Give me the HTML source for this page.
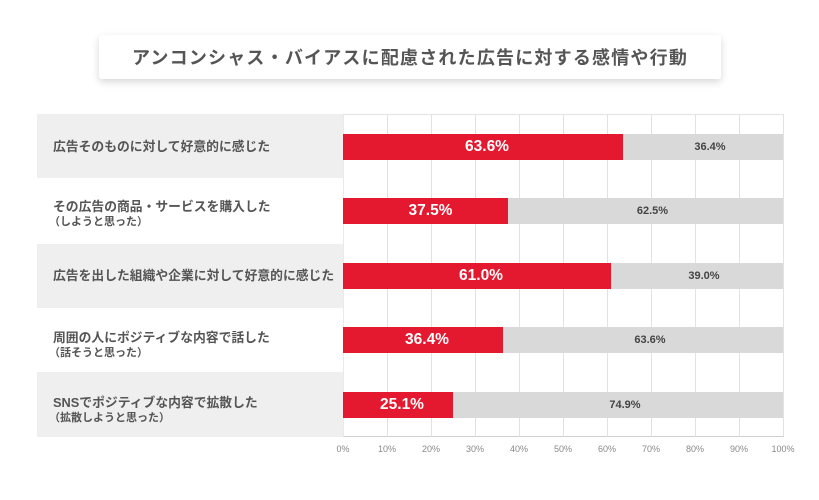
<!DOCTYPE html>
<html><head><meta charset="utf-8">
<style>
html,body{margin:0;padding:0;}
body{width:819px;height:500px;background:#fff;position:relative;overflow:hidden;font-family:"Liberation Sans","Noto Sans CJK JP",sans-serif;}
.abs{position:absolute;}
.title{left:99px;top:35px;width:622px;height:44px;background:#fff;border-radius:3px;box-shadow:0 3px 8px rgba(0,0,0,0.16);text-align:center;line-height:44px;font-family:"Noto Sans CJK JP",sans-serif;font-weight:bold;font-size:18px;color:#555;letter-spacing:1.2px;}
.band{left:37px;width:306px;background:#efefef;}
.lab{left:53px;font-family:"Liberation Sans","Noto Sans CJK JP",sans-serif;font-weight:bold;font-size:12.8px;color:#555;white-space:nowrap;line-height:14px;}
.sub{font-size:11px;line-height:12px;margin-left:-4px;}
.grid{top:114px;height:323px;width:1px;background:#e2e2e2;}
.red{background:#e4192f;height:26px;left:343px;}
.gry{background:#d9d9d9;height:26px;}
.rv{color:#fff;font-weight:bold;font-size:15.5px;line-height:26px;text-align:center;font-family:"Liberation Sans",sans-serif;}
.gv{color:#444;font-weight:bold;font-size:11px;line-height:26px;text-align:center;font-family:"Liberation Sans",sans-serif;}
.tick{top:444px;width:40px;margin-left:-20px;text-align:center;font-size:9px;color:#888;font-family:"Liberation Sans",sans-serif;}
</style></head><body>
<div class="abs title">アンコンシャス・バイアスに配慮された広告に対する感情や行動</div>

<div class="abs band" style="top:114px;height:64px;"></div>
<div class="abs band" style="top:244px;height:64px;"></div>
<div class="abs band" style="top:372px;height:65px;"></div>

<!-- plot frame -->
<div class="abs" style="left:343px;top:114px;height:323px;border-top:1px solid #e2e2e2;border-right:1px solid #e2e2e2;border-left:1px solid #eaeaea;border-bottom:1px solid #cfcfcf;box-sizing:border-box;width:441px;"></div>
<div class="abs grid" style="left:387px"></div>
<div class="abs grid" style="left:431px"></div>
<div class="abs grid" style="left:475px"></div>
<div class="abs grid" style="left:519px"></div>
<div class="abs grid" style="left:563px"></div>
<div class="abs grid" style="left:607px"></div>
<div class="abs grid" style="left:651px"></div>
<div class="abs grid" style="left:695px"></div>
<div class="abs grid" style="left:739px"></div>

<!-- labels -->
<div class="abs lab" style="top:140px;">広告そのものに対して好意的に感じた</div>
<div class="abs lab" style="top:200px;">その広告の商品・サービスを購入した<br><span class="sub">（しようと思った）</span></div>
<div class="abs lab" style="top:269px;">広告を出した組織や企業に対して好意的に感じた</div>
<div class="abs lab" style="top:331px;">周囲の人にポジティブな内容で話した<br><span class="sub">（話そうと思った）</span></div>
<div class="abs lab" style="top:396px;">SNSでポジティブな内容で拡散した<br><span class="sub">（拡散しようと思った）</span></div>

<!-- bars -->
<div class="abs red rv" style="top:134px;width:280px;"><span style="position:relative;left:4px">63.6%</span></div>
<div class="abs gry gv" style="top:134px;left:623px;width:160px;"><span style="position:relative;left:7px">36.4%</span></div>

<div class="abs red rv" style="top:198px;width:165px;"><span style="position:relative;left:5px">37.5%</span></div>
<div class="abs gry gv" style="top:198px;left:508px;width:275px;"><span style="position:relative;left:7px">62.5%</span></div>

<div class="abs red rv" style="top:263px;width:268px;"><span style="position:relative;left:4px">61.0%</span></div>
<div class="abs gry gv" style="top:263px;left:611px;width:172px;"><span style="position:relative;left:7px">39.0%</span></div>

<div class="abs red rv" style="top:327px;width:160px;"><span style="position:relative;left:4px">36.4%</span></div>
<div class="abs gry gv" style="top:327px;left:503px;width:280px;"><span style="position:relative;left:7px">63.6%</span></div>

<div class="abs red rv" style="top:392px;width:110px;"><span style="position:relative;left:4px">25.1%</span></div>
<div class="abs gry gv" style="top:392px;left:453px;width:330px;"><span style="position:relative;left:7px">74.9%</span></div>

<!-- ticks -->
<div class="abs tick" style="left:343px">0%</div>
<div class="abs tick" style="left:387px">10%</div>
<div class="abs tick" style="left:431px">20%</div>
<div class="abs tick" style="left:475px">30%</div>
<div class="abs tick" style="left:519px">40%</div>
<div class="abs tick" style="left:563px">50%</div>
<div class="abs tick" style="left:607px">60%</div>
<div class="abs tick" style="left:651px">70%</div>
<div class="abs tick" style="left:695px">80%</div>
<div class="abs tick" style="left:739px">90%</div>
<div class="abs tick" style="left:783px">100%</div>
</body></html>
